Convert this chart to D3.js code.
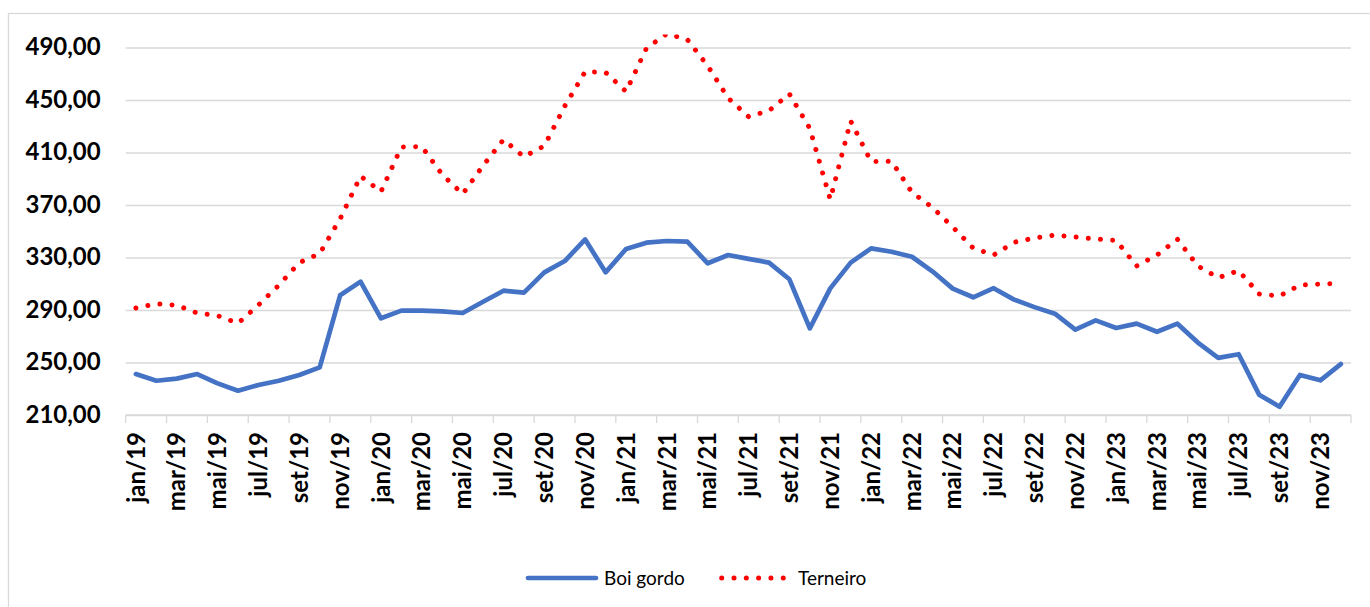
<!doctype html>
<html lang="pt">
<head>
  <meta charset="utf-8">
  <title>Boi gordo x Terneiro</title>
  <style>
    * { margin: 0; padding: 0; box-sizing: border-box; }
    body { background: #fff; }
    #container { width: 1370px; height: 607px; }
    text { font-family: Lato, "Liberation Sans", sans-serif; fill: #000; }
  </style>
</head>
<body>
  <div id="container"></div>
  <script src="https://cdn.jsdelivr.net/npm/d3@7"></script>
  <script>
    // monthly prices, jan/19 .. dez/23
    const monthNames = ['jan','fev','mar','abr','mai','jun','jul','ago','set','out','nov','dez'];
    const years = ['19','20','21','22','23'];
    const months = years.flatMap(y => monthNames.map(m => `${m}/${y}`));

    const boiGordo = [
      241.2, 236.1, 237.7, 241.2, 234.1, 228.5, 232.9, 236.1, 240.5, 246.3,
      301.2, 311.6, 283.7, 289.5, 289.5, 289.0, 287.7, 296.3, 304.7, 303.2,
      318.7, 327.3, 343.8, 318.7, 336.5, 341.3, 342.6, 342.1, 325.6, 331.9,
      329.0, 326.1, 313.4, 276.0, 306.5, 326.1, 337.0, 334.4, 330.6, 319.5,
      306.3, 299.7, 306.6, 297.9, 292.2, 287.2, 275.0, 282.1, 276.3, 279.6,
      273.4, 279.6, 265.2, 253.5, 256.3, 225.5, 216.3, 240.5, 236.4, 248.8
    ];
    const terneiro = [
      291.5, 294.8, 293.6, 287.7, 285.7, 279.9, 293.8, 308.9, 326.1, 333.0,
      359.5, 392.0, 380.2, 414.2, 414.5, 393.2, 378.4, 400.0, 419.8, 406.8,
      415.0, 445.4, 471.6, 471.0, 456.5, 489.5, 500.5, 496.1, 476.0, 451.5,
      437.3, 441.9, 454.6, 428.4, 374.3, 434.0, 403.1, 403.3, 379.7, 368.2,
      353.2, 337.2, 331.9, 341.6, 344.9, 347.1, 345.6, 344.2, 343.0, 323.5,
      331.9, 343.9, 323.5, 314.6, 320.0, 302.2, 300.7, 309.0, 309.8, 310.3
    ];
    const yTicks = [210, 250, 290, 330, 370, 410, 450, 490];
    const seriesNames = ['Boi gordo', 'Terneiro'];

    const W = 1370, H = 607;
    const plot = {left: 125.7, right: 1351, top: 34.4, bottom: 415};
    const blue = '#4472C4', red = '#FF0000', grid = '#D9D9D9';

    const ptBR = d3.formatLocale({decimal: ',', thousands: '.', grouping: [3], currency: ['R$', '']});
    const fmt = ptBR.format('.2f');

    const svg = d3.select('#container').append('svg')
      .attr('width', W)
      .attr('height', H);

    svg.append('rect')
      .attr('x', 8.5).attr('y', 13.5)
      .attr('width', W).attr('height', H)
      .attr('fill', '#fff')
      .attr('stroke', grid)
      .attr('stroke-width', 1.3);

    const x = d3.scaleBand()
      .domain(months)
      .range([plot.left, plot.right])
      .padding(0);
    const cx = m => x(m) + x.bandwidth() / 2;

    const y = d3.scaleLinear()
      .domain([210, 500])
      .range([plot.bottom, plot.top]);

    // gridlines + y labels
    const yAxis = d3.axisLeft(y)
      .tickValues(yTicks)
      .tickSize(-(plot.right - plot.left))
      .tickPadding(25)
      .tickFormat(fmt);
    const gy = svg.append('g')
      .attr('transform', `translate(${plot.left},0)`)
      .call(yAxis);
    gy.select('.domain').remove();
    gy.selectAll('.tick line').attr('stroke', grid).attr('stroke-width', 1.3);
    gy.selectAll('.tick text')
      .attr('font-size', 24)
      .attr('font-weight', 700)
      .attr('font-family', 'Lato, sans-serif')
      .attr('dy', '0.3em');

    // x axis labels every other month
    const labelMonths = months.filter((m, i) => i % 2 === 0);
    const xAxis = d3.axisBottom(x)
      .tickValues(labelMonths)
      .tickSize(0)
      .tickPadding(0);
    const gx = svg.append('g')
      .attr('transform', `translate(0,${plot.bottom})`)
      .call(xAxis);
    gx.select('.domain')
      .attr('stroke', grid)
      .attr('stroke-width', 1.3)
      .attr('d', `M${plot.left},0H${plot.right}`);
    gx.selectAll('.tick text')
      .attr('font-size', 24)
      .attr('font-weight', 700)
      .attr('font-family', 'Lato, sans-serif')
      .attr('text-anchor', 'end')
      .attr('transform', 'translate(0,17) rotate(-90)')
      .attr('y', 0)
      .attr('x', 0)
      .attr('dy', '0.36em');

    // tick marks on category boundaries, every two months
    const tickPos = labelMonths.map(m => x(m)).concat([x.range()[1]]);
    gx.selectAll('line.cat')
      .data(tickPos)
      .join('line')
      .attr('class', 'cat')
      .attr('x1', d => d).attr('x2', d => d)
      .attr('y1', 0).attr('y2', 8)
      .attr('stroke', grid)
      .attr('stroke-width', 1.3);

    // lines
    svg.append('clipPath').attr('id', 'plotclip')
      .append('rect')
      .attr('x', plot.left).attr('y', plot.top)
      .attr('width', plot.right - plot.left)
      .attr('height', plot.bottom - plot.top);

    const line = d3.line()
      .x((d, i) => cx(months[i]))
      .y(d => y(d));

    const lines = svg.append('g').attr('clip-path', 'url(#plotclip)');
    lines.append('path')
      .datum(boiGordo)
      .attr('d', line)
      .attr('fill', 'none')
      .attr('stroke', blue)
      .attr('stroke-width', 4.7)
      .attr('stroke-linejoin', 'round')
      .attr('stroke-linecap', 'round');
    lines.append('path')
      .datum(terneiro)
      .attr('d', line)
      .attr('fill', 'none')
      .attr('stroke', red)
      .attr('stroke-width', 5)
      .attr('stroke-dasharray', '0.01 12.2')
      .attr('stroke-linecap', 'round');

    // legend
    const legend = svg.append('g').attr('transform', 'translate(0,578)');
    legend.append('line')
      .attr('x1', 528).attr('x2', 596)
      .attr('stroke', blue).attr('stroke-width', 4.7)
      .attr('stroke-linecap', 'round');
    legend.append('text')
      .attr('x', 604).attr('y', 0).attr('dy', '0.35em')
      .attr('font-size', 19)
      .text(seriesNames[0]);
    legend.append('line')
      .attr('x1', 721.7).attr('x2', 784)
      .attr('stroke', red).attr('stroke-width', 5)
      .attr('stroke-dasharray', '0.01 12.3')
      .attr('stroke-linecap', 'round');
    legend.append('text')
      .attr('x', 798).attr('y', 0).attr('dy', '0.35em')
      .attr('font-size', 19)
      .text(seriesNames[1]);
  </script>
</body>
</html>
